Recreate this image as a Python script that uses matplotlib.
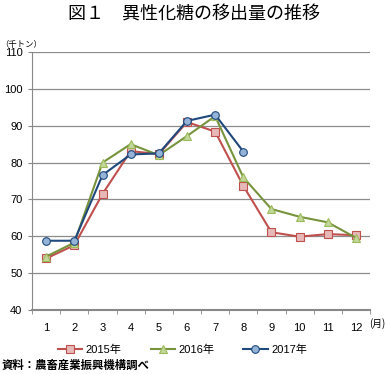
import matplotlib
matplotlib.use("Agg")
import matplotlib.pyplot as plt
import numpy as np

plt.rcParams['font.family'] = ['Liberation Sans', 'Noto Sans CJK JP']

months = [1, 2, 3, 4, 5, 6, 7, 8, 9, 10, 11, 12]
y2015 = [54.0, 57.6, 71.5, 83.1, 82.3, 91.0, 88.4, 73.7, 61.1, 59.9, 60.6, 60.3]
y2016 = [54.5, 58.3, 80.0, 85.0, 82.0, 87.2, 92.6, 76.0, 67.4, 65.3, 63.8, 59.6]
y2017 = [58.8, 58.8, 76.6, 82.2, 82.5, 91.3, 93.0, 83.0]
yticks = [40, 50, 60, 70, 80, 90, 100, 110]

fig = plt.figure(figsize=(3.87, 3.74), dpi=100)
ax = fig.add_axes([0.083, 0.171, 0.873, 0.69])

ax.plot(months, y2015, color='#C0504D', lw=1.5, marker='s', ms=5.5,
        mfc='#E6B9B8', mec='#C0504D', mew=0.8, label='2015年', zorder=3)
ax.plot(months, y2016, color='#77933C', lw=1.5, marker='^', ms=6,
        mfc='#C3D69B', mec='#9BBB59', mew=0.8, label='2016年', zorder=3)
ax.plot(months[:len(y2017)], y2017, color='#1F497D', lw=1.5, marker='o', ms=5.5,
        mfc='#95B3D7', mec='#1F497D', mew=0.8, label='2017年', zorder=4)

ax.set_xlim(0.5, 12.5)
ax.set_ylim(40, 110)
ax.set_yticks(yticks)
ax.set_xticks(months)
ax.set_xticks(np.arange(0.5, 13, 1), minor=True)
ax.tick_params(axis='x', which='major', length=0, labelsize=8, pad=9)
ax.tick_params(axis='x', which='minor', length=3, color='#888888')
ax.tick_params(axis='y', length=3, color='#888888', labelsize=8, pad=4)
ax.grid(axis='y', color='#8c8c8c', lw=0.9)
ax.set_axisbelow(True)
for s in ['top', 'right']:
    ax.spines[s].set_visible(False)
ax.spines['left'].set_color('#888888')
ax.spines['bottom'].set_color('#888888')
ax.spines['bottom'].set_linewidth(1.5)

fig.text(0.5, 0.96, '図１　異性化糖の移出量の推移', ha='center', va='center',
         fontsize=13, fontweight='normal', family='Noto Sans CJK JP')
fig.text(0.0, 0.88, '（千トン）', ha='left', va='center', fontsize=6,
         family='Noto Sans CJK JP')
fig.text(0.955, 0.135, '(月)', ha='left', va='center', fontsize=7,
         family='Noto Sans CJK JP')
fig.text(0.005, 0.022, '資料：農畜産業振興機構調べ', ha='left', va='center',
         fontsize=8.2, fontweight='bold', family='Noto Sans CJK JP')

ax.legend(loc='center', bbox_to_anchor=(0.445, -0.155), ncol=3, frameon=False,
          fontsize=8, handlelength=2.2, handletextpad=0.3, columnspacing=2.6)

fig.savefig('out.png', dpi=100)
